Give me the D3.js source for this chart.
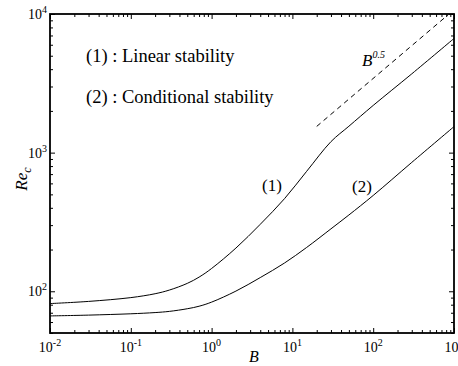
<!DOCTYPE html>
<html><head><meta charset="utf-8">
<script src="https://cdn.jsdelivr.net/npm/d3@7/dist/d3.min.js"></script>
<style>
html,body{margin:0;padding:0;background:#fff;}
svg{display:block;}
</style></head>
<body>
<svg id="chart" width="458" height="366"></svg>
<script>
// ---- data ----
const B = [0.01, 0.03, 0.1, 0.2, 0.3, 0.5, 0.7, 1, 2, 4, 8, 15, 30, 50, 100, 300, 1000];
const reLinear = [81.5, 84.5, 90, 96, 102, 114, 126.5, 146, 205, 304, 466, 733, 1200, 1550, 2190, 3700, 6660];
const reConditional = [66.4, 67.3, 68.8, 70.2, 71.6, 74.8, 78.0, 83.5, 100.3, 125.5, 160, 207, 282, 355, 491, 850, 1540];
const slopeB = [20, 850];
const slopeRe = [1546, 9900];
const xMajorTicks = [0.01, 0.1, 1, 10, 100, 1000];
const xTickExp = ["-2", "-1", "0", "1", "2", "3"];
const yMajorTicks = [100, 1000, 10000];
const yTickExp = ["2", "3", "4"];
const legendLines = ["(1) : Linear stability", "(2) : Conditional stability"];

// ---- layout ----
const W = 458, H = 366;
const FONT = "'Liberation Serif','Times New Roman','Nimbus Roman','DejaVu Serif',serif";
const m = {left: 50, right: 4, top: 14, bottom: 33};
const svg = d3.select("#chart").attr("font-family", FONT);
const x = d3.scaleLog().domain([0.01, 1000]).range([m.left, W - m.right]);
const y = d3.scaleLog().domain([50, 10000]).range([H - m.bottom, m.top]);

const xMinor = x.ticks().filter(v => !xMajorTicks.includes(v));
const yMinor = y.ticks().filter(v => !yMajorTicks.includes(v));
const x0 = m.left, x1 = W - m.right, y0 = H - m.bottom, y1 = m.top;

function tickAxis(axisFn, scale, vals, size, transform) {
  const g = svg.append("g").attr("transform", transform)
    .call(axisFn(scale).tickValues(vals).tickSize(size).tickFormat(""));
  g.select(".domain").remove();
  g.selectAll(".tick line").attr("stroke", "#000").attr("stroke-width", 1);
}
tickAxis(d3.axisBottom, x, xMajorTicks, -5, `translate(0,${y0})`);
tickAxis(d3.axisBottom, x, xMinor, -3, `translate(0,${y0})`);
tickAxis(d3.axisTop, x, xMajorTicks, -5, `translate(0,${y1})`);
tickAxis(d3.axisTop, x, xMinor, -3, `translate(0,${y1})`);
tickAxis(d3.axisLeft, y, yMajorTicks, -5, `translate(${x0},0)`);
tickAxis(d3.axisLeft, y, yMinor, -3, `translate(${x0},0)`);
tickAxis(d3.axisRight, y, yMajorTicks, -5, `translate(${x1},0)`);
tickAxis(d3.axisRight, y, yMinor, -3, `translate(${x1},0)`);

svg.append("rect").attr("x", x0).attr("y", y1).attr("width", x1 - x0).attr("height", y0 - y1)
  .attr("fill", "none").attr("stroke", "#000").attr("stroke-width", 1.8);

function txt(xp, yp, size) {
  return svg.append("text").attr("x", xp).attr("y", yp)
    .attr("font-family", FONT).attr("font-size", size).attr("fill", "#000");
}

// x tick labels
xMajorTicks.forEach((v, i) => {
  const t = txt(x(v), 352, 14).attr("text-anchor", "middle");
  t.append("tspan").text("10");
  t.append("tspan").attr("font-size", 10).attr("dy", -6).text(xTickExp[i]);
});
// y tick labels
yMajorTicks.forEach((v, i) => {
  const t = txt(x0 - 3, y(v) + 5, 14).attr("text-anchor", "end");
  t.append("tspan").text("10");
  t.append("tspan").attr("font-size", 10).attr("dy", -6).text(yTickExp[i]);
});

// axis titles
txt(254, 362, 16).attr("text-anchor", "middle").attr("font-style", "italic").text("B");
const yt = svg.append("text").attr("transform", "translate(27,179) rotate(-90)")
  .attr("font-family", FONT).attr("text-anchor", "middle").attr("font-size", 17).attr("font-style", "italic");
yt.append("tspan").text("Re");
yt.append("tspan").attr("font-size", 12).attr("dy", 4).text("c");

// curves
const line = d3.line().x(d => x(d[0])).y(d => y(d[1])).curve(d3.curveCatmullRom.alpha(0.5));
const plot = svg.append("g");
plot.append("path").datum(B.map((b, i) => [b, reLinear[i]]))
  .attr("d", line).attr("fill", "none").attr("stroke", "#000").attr("stroke-width", 1);
plot.append("path").datum(B.map((b, i) => [b, reConditional[i]]))
  .attr("d", line).attr("fill", "none").attr("stroke", "#000").attr("stroke-width", 1);
plot.append("path").datum(slopeB.map((b, i) => [b, slopeRe[i]]))
  .attr("d", d3.line().x(d => x(d[0])).y(d => y(d[1])))
  .attr("fill", "none").attr("stroke", "#000").attr("stroke-width", 1)
  .attr("stroke-dasharray", "5,4");

// annotations
txt(262, 191, 17).text("(1)");
txt(352, 192, 17).text("(2)");
const bt = txt(362, 66, 17).attr("font-style", "italic");
bt.append("tspan").text("B");
bt.append("tspan").attr("font-size", 10).attr("dy", -8).text("0.5");

legendLines.forEach((s, i) => {
  txt(86, 62 + i * 41, 18.5).text(s);
});
</script>
</body></html>
